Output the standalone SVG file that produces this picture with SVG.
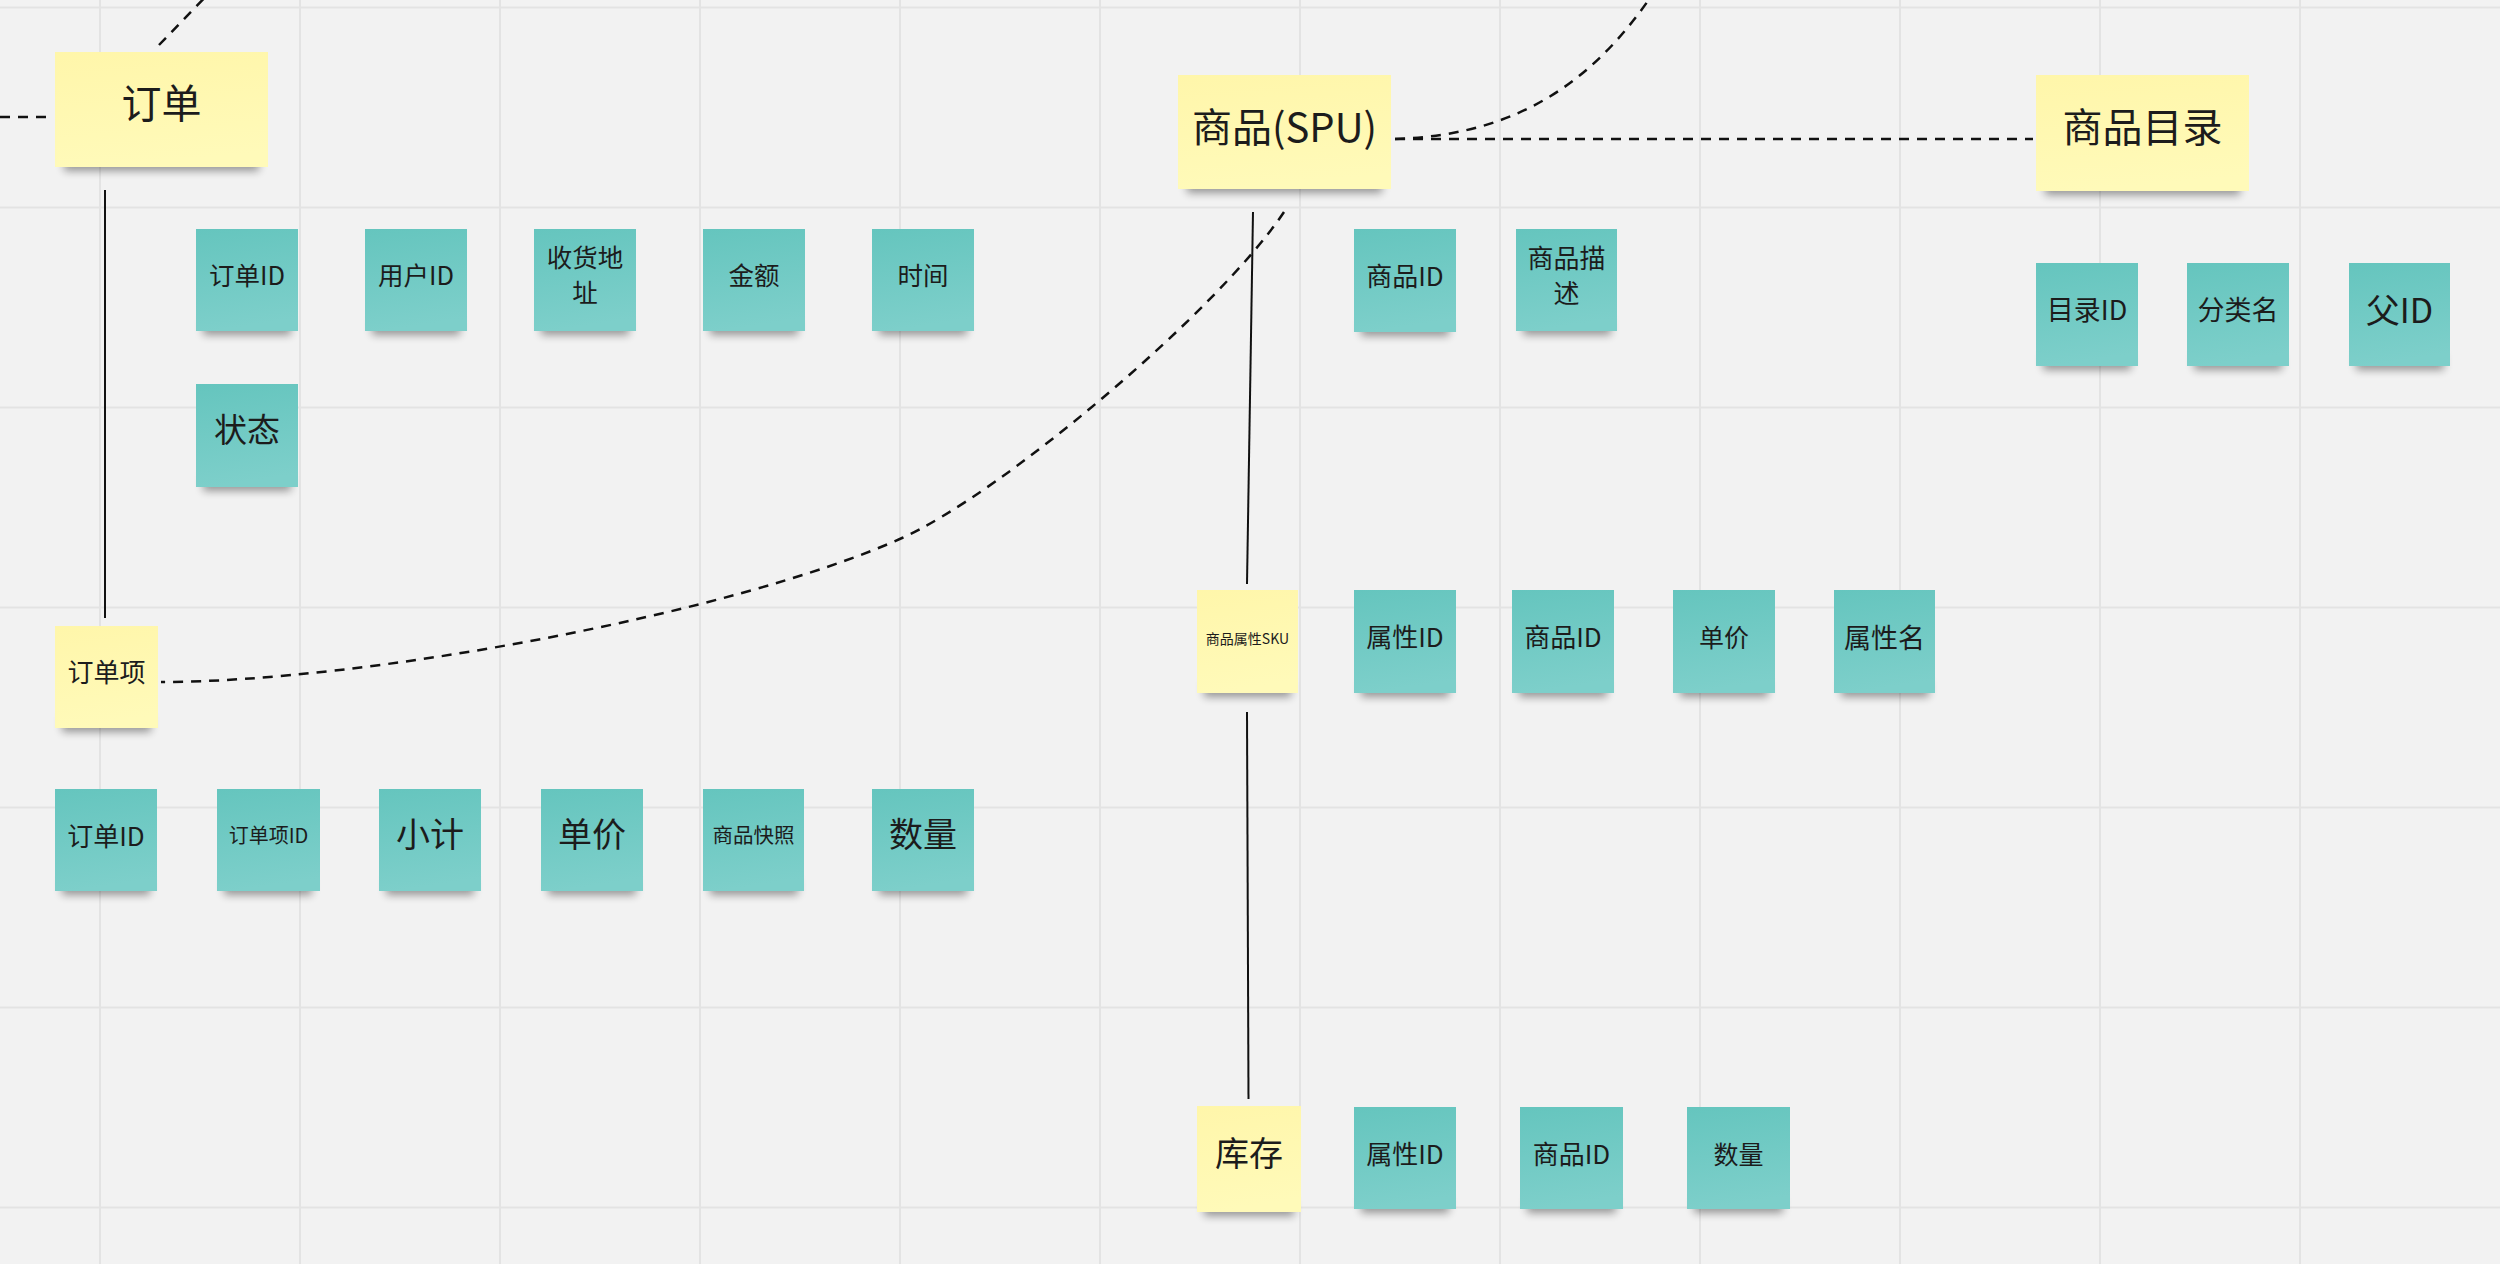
<svg xmlns="http://www.w3.org/2000/svg" width="2500" height="1264" viewBox="0 0 2500 1264">
<defs>
<linearGradient id="gT" x1="0" y1="0" x2="0.15" y2="1">
<stop offset="0" stop-color="#65c5be"/>
<stop offset="1" stop-color="#7dcfca"/>
</linearGradient>
<linearGradient id="gY" x1="0" y1="0" x2="0.15" y2="1">
<stop offset="0" stop-color="#fff6aa"/>
<stop offset="1" stop-color="#fffab9"/>
</linearGradient>
<filter id="blur" x="-20%" y="-100%" width="140%" height="300%">
<feGaussianBlur stdDeviation="4"/>
</filter>
</defs>
<style>
.bg{fill:#f2f2f2}
.grid line{stroke:#e3e3e3;stroke-width:2}
.sh{fill:#000;opacity:.38;filter:url(#blur)}
.t{fill:url(#gT)}
.y{fill:url(#gY)}
text{font-family:"Noto Sans CJK SC","Noto Sans",sans-serif;fill:#1c1c1c;text-anchor:middle}
.solid{fill:none;stroke:#111;stroke-width:2}
.dash{fill:none;stroke:#111;stroke-width:2.5;stroke-dasharray:10 8}
</style>
<rect class="bg" x="0" y="0" width="2500" height="1264"/>
<g class="grid">
<line x1="100" y1="0" x2="100" y2="1264"/>
<line x1="300" y1="0" x2="300" y2="1264"/>
<line x1="500" y1="0" x2="500" y2="1264"/>
<line x1="700" y1="0" x2="700" y2="1264"/>
<line x1="900" y1="0" x2="900" y2="1264"/>
<line x1="1100" y1="0" x2="1100" y2="1264"/>
<line x1="1300" y1="0" x2="1300" y2="1264"/>
<line x1="1500" y1="0" x2="1500" y2="1264"/>
<line x1="1700" y1="0" x2="1700" y2="1264"/>
<line x1="1900" y1="0" x2="1900" y2="1264"/>
<line x1="2100" y1="0" x2="2100" y2="1264"/>
<line x1="2300" y1="0" x2="2300" y2="1264"/>
<line x1="0" y1="7.5" x2="2500" y2="7.5"/>
<line x1="0" y1="207.5" x2="2500" y2="207.5"/>
<line x1="0" y1="407.5" x2="2500" y2="407.5"/>
<line x1="0" y1="607.5" x2="2500" y2="607.5"/>
<line x1="0" y1="807.5" x2="2500" y2="807.5"/>
<line x1="0" y1="1007.5" x2="2500" y2="1007.5"/>
<line x1="0" y1="1207.5" x2="2500" y2="1207.5"/>
</g>

<g id="connectors">
<path class="solid" d="M105,190 L105,618"/>
<path class="solid" d="M1253,212 L1247,584"/>
<path class="solid" d="M1247,712 L1248.5,1099"/>
<path class="dash" d="M0,117 L51,117"/>
<path class="dash" d="M159,45 L214,-12"/>
<path class="dash" d="M1395,139 L2033,139"/>
<path class="dash" d="M1395,139 C1520,135 1600,80 1665,-25"/>
<path class="dash" d="M1284,212 C1217,312 1002,493 902,538 C732,614.5 361,682 161,682"/>
</g>

<g id="n-order">
<rect class="sh" x="64" y="155" width="195" height="16"/>
<rect class="y" x="55" y="52" width="213" height="115"/>
<text x="161.5" y="117.8" font-size="40">订单</text>
</g>
<g id="n-spu">
<rect class="sh" x="1187" y="177" width="195" height="16"/>
<rect class="y" x="1178" y="75" width="213" height="114"/>
<text x="1284.5" y="142.3" font-size="40">商品(SPU)</text>
</g>
<g id="n-catalog">
<rect class="sh" x="2045" y="179" width="195" height="16"/>
<rect class="y" x="2036" y="75" width="213" height="116"/>
<text x="2142.5" y="142.3" font-size="40">商品目录</text>
</g>
<g id="n-orderitem">
<rect class="sh" x="62" y="716" width="89" height="16"/>
<rect class="y" x="55" y="626" width="103" height="102"/>
<text x="106.5" y="681.6" font-size="26">订单项</text>
</g>
<g id="n-sku">
<rect class="sh" x="1204" y="681" width="87" height="16"/>
<rect class="y" x="1197" y="590" width="101" height="103"/>
<text x="1247.5" y="644.2" font-size="14">商品属性SKU</text>
</g>
<g id="n-stock">
<rect class="sh" x="1204" y="1200" width="90" height="16"/>
<rect class="y" x="1197" y="1106" width="104" height="106"/>
<text x="1249" y="1165.6" font-size="34">库存</text>
</g>

<g id="n-o-id">
<rect class="sh" x="203" y="319" width="88" height="16"/>
<rect class="t" x="196" y="229" width="102" height="102"/>
<text x="247" y="285.4" font-size="25.5">订单ID</text>
</g>
<g id="n-o-uid">
<rect class="sh" x="372" y="319" width="88" height="16"/>
<rect class="t" x="365" y="229" width="102" height="102"/>
<text x="416" y="285.4" font-size="25.5">用户ID</text>
</g>
<g id="n-o-addr">
<rect class="sh" x="541" y="319" width="88" height="16"/>
<rect class="t" x="534" y="229" width="102" height="102"/>
<text x="585" y="267.4" font-size="25.5">收货地</text>
<text x="585" y="302.4" font-size="25.5">址</text>
</g>
<g id="n-o-amount">
<rect class="sh" x="710" y="319" width="88" height="16"/>
<rect class="t" x="703" y="229" width="102" height="102"/>
<text x="754" y="285.4" font-size="25.5">金额</text>
</g>
<g id="n-o-time">
<rect class="sh" x="879" y="319" width="88" height="16"/>
<rect class="t" x="872" y="229" width="102" height="102"/>
<text x="923" y="285.4" font-size="25.5">时间</text>
</g>
<g id="n-o-status">
<rect class="sh" x="203" y="475" width="88" height="16"/>
<rect class="t" x="196" y="384" width="102" height="103"/>
<text x="247" y="442.2" font-size="33">状态</text>
</g>

<g id="n-spu-id">
<rect class="sh" x="1361" y="320" width="88" height="16"/>
<rect class="t" x="1354" y="229" width="102" height="103"/>
<text x="1405" y="285.6" font-size="26">商品ID</text>
</g>
<g id="n-spu-desc">
<rect class="sh" x="1523" y="319" width="88" height="16"/>
<rect class="t" x="1516" y="229" width="101" height="102"/>
<text x="1566.5" y="267.6" font-size="26">商品描</text>
<text x="1566.5" y="302.6" font-size="26">述</text>
</g>

<g id="n-c-id">
<rect class="sh" x="2043" y="354" width="88" height="16"/>
<rect class="t" x="2036" y="263" width="102" height="103"/>
<text x="2087" y="320" font-size="27">目录ID</text>
</g>
<g id="n-c-name">
<rect class="sh" x="2194" y="354" width="88" height="16"/>
<rect class="t" x="2187" y="263" width="102" height="103"/>
<text x="2238" y="320" font-size="27">分类名</text>
</g>
<g id="n-c-pid">
<rect class="sh" x="2356" y="354" width="88" height="16"/>
<rect class="t" x="2349" y="263" width="101" height="103"/>
<text x="2399.5" y="322.6" font-size="34">父ID</text>
</g>

<g id="n-i-oid">
<rect class="sh" x="62" y="879" width="88" height="16"/>
<rect class="t" x="55" y="789" width="102" height="102"/>
<text x="106" y="845.6" font-size="26">订单ID</text>
</g>
<g id="n-i-id">
<rect class="sh" x="224" y="879" width="88" height="16"/>
<rect class="t" x="217" y="789" width="103" height="102"/>
<text x="268.5" y="843.4" font-size="20">订单项ID</text>
</g>
<g id="n-i-sub">
<rect class="sh" x="386" y="879" width="88" height="16"/>
<rect class="t" x="379" y="789" width="102" height="102"/>
<text x="430" y="847" font-size="34">小计</text>
</g>
<g id="n-i-price">
<rect class="sh" x="548" y="879" width="88" height="16"/>
<rect class="t" x="541" y="789" width="102" height="102"/>
<text x="592" y="847" font-size="34">单价</text>
</g>
<g id="n-i-snap">
<rect class="sh" x="710" y="879" width="88" height="16"/>
<rect class="t" x="703" y="789" width="101" height="102"/>
<text x="753.5" y="843.4" font-size="20.5">商品快照</text>
</g>
<g id="n-i-qty">
<rect class="sh" x="879" y="879" width="88" height="16"/>
<rect class="t" x="872" y="789" width="102" height="102"/>
<text x="923" y="847" font-size="34">数量</text>
</g>

<g id="n-s-aid">
<rect class="sh" x="1361" y="681" width="88" height="16"/>
<rect class="t" x="1354" y="590" width="102" height="103"/>
<text x="1405" y="647.2" font-size="26">属性ID</text>
</g>
<g id="n-s-pid">
<rect class="sh" x="1519" y="681" width="88" height="16"/>
<rect class="t" x="1512" y="590" width="102" height="103"/>
<text x="1563" y="647.2" font-size="26">商品ID</text>
</g>
<g id="n-s-price">
<rect class="sh" x="1680" y="681" width="88" height="16"/>
<rect class="t" x="1673" y="590" width="102" height="103"/>
<text x="1724" y="646.9" font-size="25">单价</text>
</g>
<g id="n-s-name">
<rect class="sh" x="1841" y="681" width="88" height="16"/>
<rect class="t" x="1834" y="590" width="101" height="103"/>
<text x="1884.5" y="647.6" font-size="27">属性名</text>
</g>

<g id="n-k-aid">
<rect class="sh" x="1361" y="1197" width="88" height="16"/>
<rect class="t" x="1354" y="1107" width="102" height="102"/>
<text x="1405" y="1164.1" font-size="26">属性ID</text>
</g>
<g id="n-k-pid">
<rect class="sh" x="1527" y="1197" width="89" height="16"/>
<rect class="t" x="1520" y="1107" width="103" height="102"/>
<text x="1571.5" y="1164.1" font-size="26">商品ID</text>
</g>
<g id="n-k-qty">
<rect class="sh" x="1694" y="1197" width="89" height="16"/>
<rect class="t" x="1687" y="1107" width="103" height="102"/>
<text x="1738.5" y="1163.8" font-size="25">数量</text>
</g>
</svg>
